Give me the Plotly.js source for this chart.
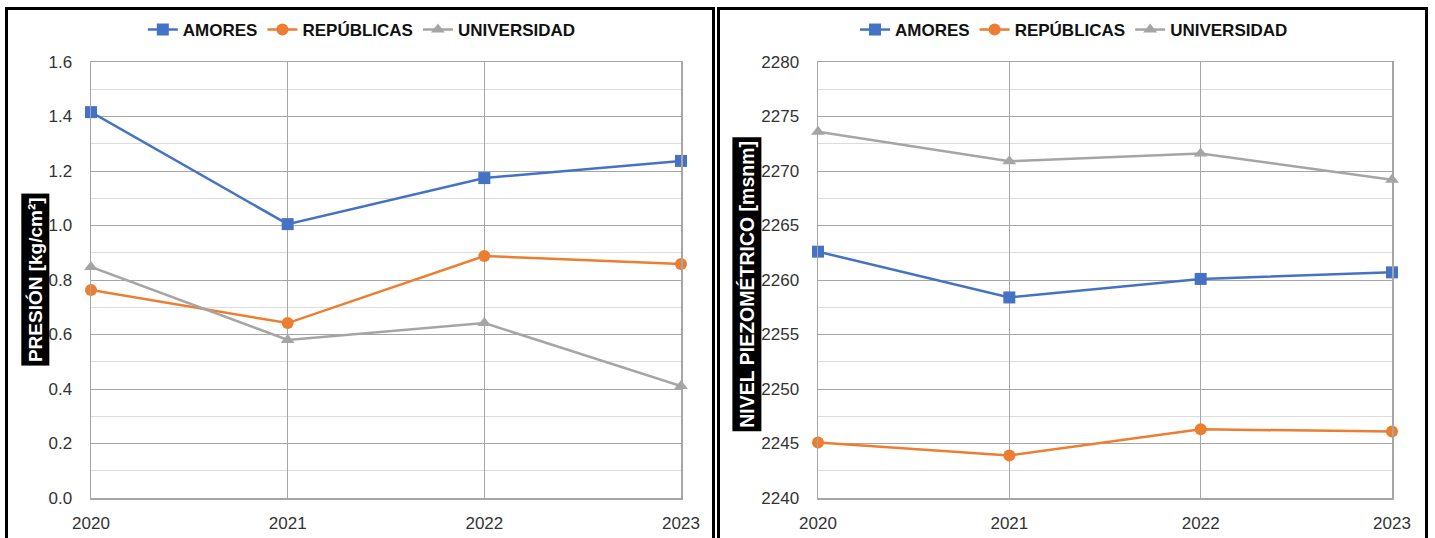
<!DOCTYPE html>
<html>
<head>
<meta charset="utf-8">
<script src="https://cdn.plot.ly/plotly-3.0.1.min.js"></script>
<style>
  html, body { margin: 0; padding: 0; background: #fff; width: 1435px; height: 538px; overflow: hidden; }
  .panel { position: absolute; top: 7px; border: 3px solid #000; box-sizing: border-box; height: 560px; background: #fff; }
  #p1 { left: 5px; width: 710px; }
  #p2 { left: 717px; width: 711px; }
</style>
</head>
<body>
<div id="p1" class="panel"><div id="c1"></div></div>
<div id="p2" class="panel"><div id="c2"></div></div>
<script>
const years = [2020, 2021, 2022, 2023];
const seriesNames = ["AMORES", "REPÚBLICAS", "UNIVERSIDAD"];

// Presión [kg/cm²]
const presionAmores = [1.416, 1.005, 1.174, 1.237];
const presionRepublicas = [0.763, 0.642, 0.888, 0.859];
const presionUniversidad = [0.848, 0.580, 0.642, 0.411];

// Nivel piezométrico [msnm]
const nivelAmores = [2262.6, 2258.4, 2260.1, 2260.7];
const nivelRepublicas = [2245.1, 2243.9, 2246.3, 2246.1];
const nivelUniversidad = [2273.6, 2270.9, 2271.6, 2269.2];

const colors = ["#4472C4", "#ED7D31", "#A5A5A5"];
const symbols = ["square", "circle", "triangle-up"];
const FONT = "Liberation Sans, Arial, sans-serif";

function traces(vals) {
  return vals.map((v, i) => ({
    x: years, y: v, name: seriesNames[i], type: "scatter", mode: "lines+markers",
    line: { color: colors[i], width: 2.5 },
    marker: { color: colors[i], symbol: symbols[i], size: 12 },
    cliponaxis: false
  }));
}

function layout(opts) {
  return {
    width: opts.w, height: 528,
    margin: { l: opts.l, r: opts.r, t: 52, b: 40, autoexpand: false },
    paper_bgcolor: "#fff", plot_bgcolor: "#fff",
    font: { family: FONT, size: 17, color: "#333" },
    showlegend: true,
    legend: {
      orientation: "h", x: opts.legx, xanchor: "center",
      yref: "container", y: 1 - 20 / 528, yanchor: "middle",
      font: { family: FONT, size: 17, color: "#111", weight: "bold" },
      itemwidth: 30, tracegroupgap: 0, bgcolor: "rgba(0,0,0,0)"
    },
    xaxis: {
      range: [2020, 2023], tickmode: "array", tickvals: years, ticktext: years.map(String),
      showgrid: true, gridcolor: "#a6a6a6", gridwidth: 1,
      showline: true, linecolor: "#a6a6a6", linewidth: 1.5, mirror: true,
      zeroline: false, ticks: "", ticklabelstandoff: 9,
      tickfont: { family: FONT, size: 17, color: "#333" }
    },
    yaxis: {
      range: opts.yrange, dtick: opts.dtick, tickformat: opts.fmt,
      showgrid: true, gridcolor: "#a6a6a6", gridwidth: 1,
      minor: { dtick: opts.dtick / 2, showgrid: true, gridcolor: "#dcdcdc", gridwidth: 1, ticks: "" },
      showline: true, linecolor: "#a6a6a6", linewidth: 1.5, mirror: true,
      zeroline: false, ticks: "", ticklabelstandoff: 14,
      tickfont: { family: FONT, size: 17, color: "#333" }
    },
    annotations: [{
      text: opts.title, xref: "paper", yref: "paper", x: opts.tx, y: opts.ty,
      xanchor: "center", yanchor: "middle", textangle: -90, showarrow: false,
      bgcolor: "#000", borderpad: 3,
      font: { family: FONT, size: opts.tsize, color: "#fff", weight: "bold" }
    }]
  };
}

Plotly.newPlot("c1",
  traces([presionAmores, presionRepublicas, presionUniversidad]),
  layout({ w: 704, l: 83, r: 31, legx: 0.459, yrange: [0, 1.6], dtick: 0.2, fmt: ".1f",
           title: "PRESIÓN [kg/cm²]", tx: -0.095, ty: 0.502, tsize: 19 }),
  { displayModeBar: false, staticPlot: true });

Plotly.newPlot("c2",
  traces([nivelAmores, nivelRepublicas, nivelUniversidad]),
  layout({ w: 705, l: 98, r: 33, legx: 0.446, yrange: [2240, 2280], dtick: 5, fmt: "d",
           title: "NIVEL PIEZOMÉTRICO [msnm]", tx: -0.124, ty: 0.491, tsize: 19.5 }),
  { displayModeBar: false, staticPlot: true });
</script>
</body>
</html>
